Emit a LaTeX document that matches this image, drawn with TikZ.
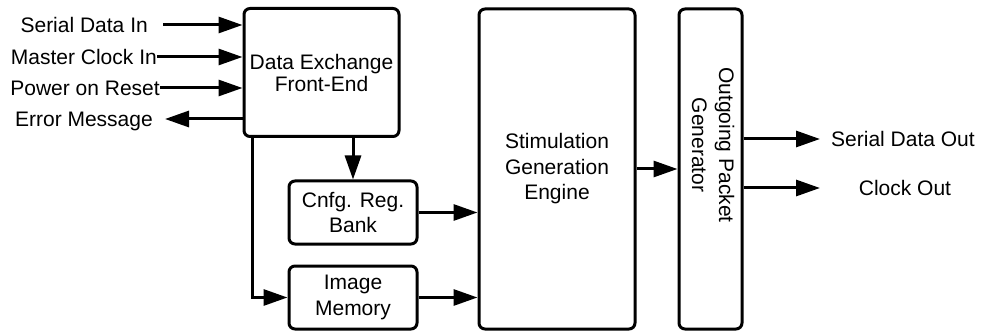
\documentclass[tikz,border=0pt]{standalone}
\usepackage{fontspec}
\setmainfont{Liberation Sans}
\usetikzlibrary{arrows.meta}
\begin{document}
\begin{tikzpicture}[x=1pt,y=-1pt,
  blk/.style={draw, line width=3pt, rounded corners=6pt, inner sep=0pt, align=center,
    font=\fontsize{21}{25.5}\selectfont},
  arr/.style={line width=3pt, -{Triangle[length=24pt,width=16pt]}},
  lbl/.style={font=\fontsize{21}{25}\selectfont, inner sep=0pt, text height=15.2pt, text depth=0pt}]
\useasboundingbox (0,0) rectangle (993,331);
% blocks
\node[blk, minimum width=155pt, minimum height=128pt, font=\fontsize{21}{22}\selectfont] (de) at (321.5,72.5) {Data Exchange\\Front-End};
\node[blk, minimum width=128pt, minimum height=63pt] (cfg) at (353,212.5) {Cnfg. Reg.\\Bank};
\node[blk, minimum width=128pt, minimum height=63pt] (im) at (353,297.5) {Image\\Memory};
\node[blk, minimum width=156pt, minimum height=320pt] (sge) at (557,169) {Stimulation\\Generation\\Engine};
\node[blk, minimum width=63pt, minimum height=320pt] (opg) at (710.5,169) {};
\node[align=center, rotate=-90, inner sep=0pt, font=\fontsize{21}{27}\selectfont] (opgt) at (713,145) {Outgoing Packet\\Generator};
% left labels
\node[lbl, anchor=east] (sdi) at (148,25) {Serial Data In};
\node[lbl, anchor=east] (mci) at (157,57) {Master Clock In};
\node[lbl, anchor=east] (por) at (160,88) {Power on Reset};
\node[lbl, anchor=east] (em) at (153,119) {Error Message};
% right labels
\node[lbl, anchor=west] (sdo) at (831,139) {Serial Data Out};
\node[lbl] (co) at (905,188) {Clock Out};
% connectors
\draw[arr] ([xshift=15pt]sdi.east) -- (sdi.east -| de.west);
\draw[arr] (mci.east) -- (mci.east -| de.west);
\draw[arr] (por.east) -- (por.east -| de.west);
\draw[arr] (em.east -| de.west) -- ([xshift=12pt]em.east);
\draw[arr] (de.south -| cfg.north) -- (cfg.north);
\draw[arr] ([xshift=10pt]de.south west) |- (im.west);
\draw[arr] (cfg.east) -- (cfg.east -| sge.west);
\draw[arr] (im.east) -- (im.east -| sge.west);
\draw[arr] (sge.east) -- (opg.west);
\draw[arr] (sdo.west -| opg.east) -- ([xshift=-11pt]sdo.west);
\draw[arr] (co -| opg.east) -- (co -| 820,0);
\end{tikzpicture}
\end{document}
